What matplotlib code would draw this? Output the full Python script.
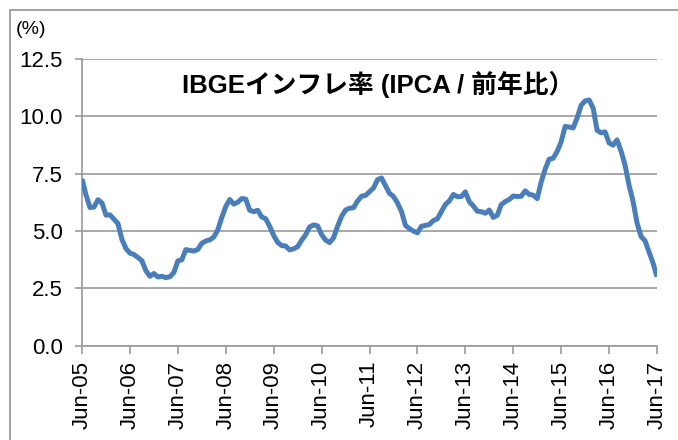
import matplotlib
matplotlib.use('Agg')
import matplotlib.pyplot as plt
from matplotlib.patches import Rectangle

# IPCA, 12-month change (%), monthly from Jun-05 to Jun-17
ipca_2005 = [7.27, 6.57, 6.02, 6.04, 6.36, 6.22, 5.69]
ipca_2006 = [5.70, 5.51, 5.32, 4.63, 4.23, 4.03, 3.97, 3.84, 3.70, 3.26, 3.02, 3.14]
ipca_2007 = [2.99, 3.02, 2.96, 3.00, 3.18, 3.69, 3.74, 4.18, 4.15, 4.12, 4.19, 4.46]
ipca_2008 = [4.56, 4.61, 4.73, 5.04, 5.58, 6.06, 6.37, 6.17, 6.25, 6.41, 6.39, 5.90]
ipca_2009 = [5.84, 5.90, 5.61, 5.53, 5.20, 4.80, 4.50, 4.36, 4.34, 4.17, 4.22, 4.31]
ipca_2010 = [4.59, 4.83, 5.17, 5.26, 5.22, 4.84, 4.60, 4.49, 4.70, 5.20, 5.63, 5.91]
ipca_2011 = [5.99, 6.01, 6.30, 6.51, 6.55, 6.71, 6.87, 7.23, 7.31, 6.97, 6.64, 6.50]
ipca_2012 = [6.22, 5.85, 5.24, 5.10, 4.99, 4.92, 5.20, 5.24, 5.28, 5.45, 5.53, 5.84]
ipca_2013 = [6.15, 6.31, 6.59, 6.49, 6.50, 6.70, 6.27, 6.09, 5.86, 5.84, 5.77, 5.91]
ipca_2014 = [5.59, 5.68, 6.15, 6.28, 6.37, 6.52, 6.50, 6.51, 6.75, 6.59, 6.56, 6.41]
ipca_2015 = [7.14, 7.70, 8.13, 8.17, 8.47, 8.89, 9.56, 9.53, 9.49, 9.93, 10.48, 10.67]
ipca_2016 = [10.71, 10.36, 9.39, 9.28, 9.32, 8.84, 8.74, 8.97, 8.48, 7.87, 6.99, 6.29]
ipca_2017 = [5.35, 4.76, 4.57, 4.08, 3.60, 3.00]

ipca = (ipca_2005 + ipca_2006 + ipca_2007 + ipca_2008 + ipca_2009 + ipca_2010 +
        ipca_2011 + ipca_2012 + ipca_2013 + ipca_2014 + ipca_2015 + ipca_2016 + ipca_2017)
months = list(range(len(ipca)))

tick_labels = ['Jun-%02d' % y for y in range(5, 18)]
y_ticks = [0.0, 2.5, 5.0, 7.5, 10.0, 12.5]

title = 'IBGEインフレ率 (IPCA / 前年比）'
fonts = ['Liberation Sans', 'Noto Sans CJK JP', 'DejaVu Sans']
plt.rcParams['font.family'] = fonts

grid_gray = '#9a9a9a'
W, H = 678.0, 440.0

fig = plt.figure(figsize=(6.78, 4.40), dpi=100)
ax = fig.add_axes([82 / W, (H - 345.5) / H, (657 - 82) / W, (345.5 - 59) / H])

ax.plot(months, ipca, color='#4a7ebb', lw=3.6, solid_joinstyle='round',
        solid_capstyle='butt', zorder=3)

ax.set_xlim(0, 144)
ax.set_ylim(0, 12.5)
ax.set_xticks(list(range(0, 145, 12)))
ax.set_xticklabels(tick_labels, rotation=90, fontsize=16)
ax.set_yticks(y_ticks)
ax.set_yticklabels(['%.1f' % v for v in y_ticks], fontsize=16)

ax.yaxis.grid(True, color=grid_gray, lw=1.2)
ax.set_axisbelow(True)
for side in ['top', 'right']:
    ax.spines[side].set_visible(False)
for side in ['left', 'bottom']:
    ax.spines[side].set_color(grid_gray)
    ax.spines[side].set_linewidth(1.2)
ax.tick_params(axis='y', direction='out', length=5, width=1.2, color=grid_gray, pad=9)
ax.tick_params(axis='x', direction='out', length=5.5, width=1.2, color=grid_gray, pad=5.5)

fig.text(378 / W, 1 - 84 / H, title, fontsize=18.5, fontweight='bold',
         ha='center', va='center', family=fonts)
fig.text(16 / W, 1 - 29 / H, '(%)', fontsize=14, ha='left', va='center')

# outer frame (right and bottom edges are cut off)
fig.patches.append(Rectangle((9.5 / W, -0.1), 1.0, (H - 10.5) / H + 0.1,
                             transform=fig.transFigure, fill=False,
                             edgecolor='#8a8a8a', lw=1.1))

fig.savefig('out.png', dpi=100)
